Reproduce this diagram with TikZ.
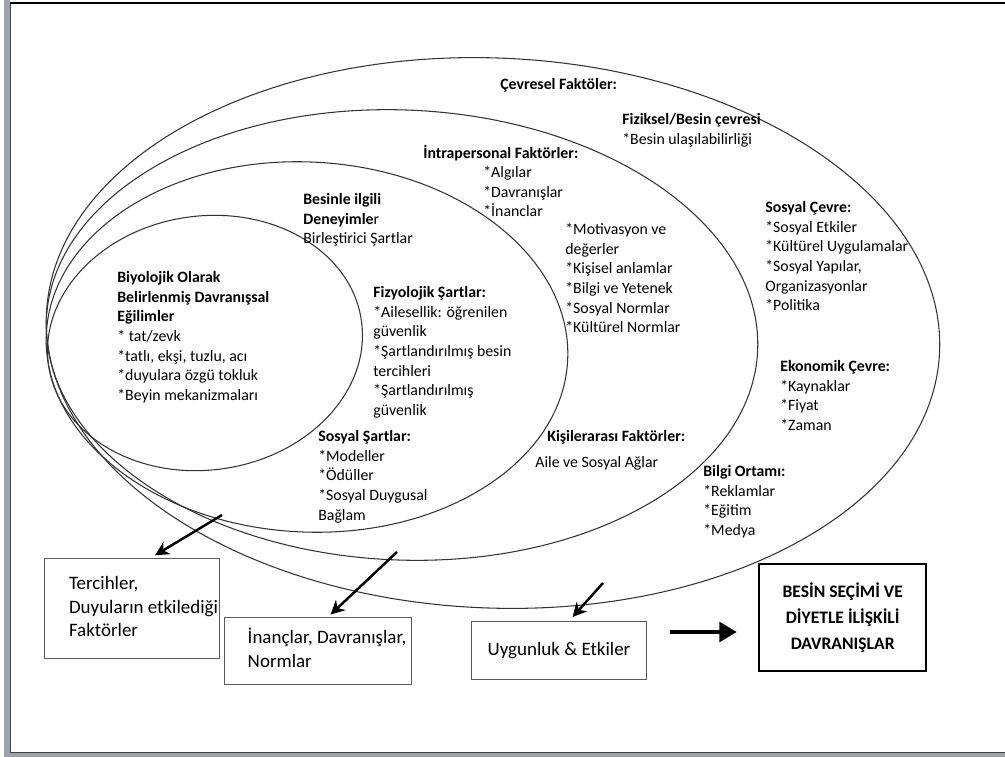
\documentclass[tikz,border=0pt]{standalone}
\usepackage{fontspec}
\setmainfont{Carlito}
\usepackage{xcolor}
\usepackage{tikz}
\usetikzlibrary{arrows.meta, positioning, calc}

\definecolor{framegrey}{RGB}{158,163,168}

\begin{document}
\begin{tikzpicture}[
    x=0.02cm, y=-0.02cm,
    ring/.style={draw=black!80, line width=0.6pt},
    txt/.style={anchor=north west, align=left, inner sep=0pt, font=\fontsize{9}{11.2}\selectfont},
    outbox/.style={draw=black!65, line width=0.6pt, inner sep=0pt, font=\fontsize{10.8}{13.5}\selectfont},
    mainbox/.style={draw=black, line width=1.4pt, inner sep=0pt, align=center, font=\fontsize{10}{14.7}\selectfont\bfseries},
    arrow/.style={-{Stealth[length=8pt,width=8pt]}, line width=1.4pt},
    bigarrow/.style={-{Triangle[length=10pt,width=11pt]}, line width=2.8pt}
]
\useasboundingbox (0,0) rectangle (1005,757);

% Window frame
\fill[framegrey] (4,0) rectangle (10,757);
\fill[framegrey] (4,753) rectangle (1005,757);
\draw[black!75, line width=0.6pt] (10.5,3) -- (10.5,752.5) -- (1005,752.5);
\fill[black] (10,2) rectangle (1005,4.5);

% Nested ellipses
\draw[ring, rotate around={-2.4:(493,333)}] (493,333) ellipse [x radius=447, y radius=275];
\draw[ring, rotate around={-2.5:(402,335)}] (402,335) ellipse [x radius=356, y radius=225];
\draw[ring, rotate around={-3:(307,347)}] (307,347) ellipse [x radius=261, y radius=185];
\draw[ring, rotate around={8:(205,343)}] (205,343) ellipse [x radius=158, y radius=127];

% Environmental factors
\node[txt] (cevre) at (500,78) {\textbf{Çevresel Faktöler:}};
\node[txt] (fizik) at (622,113) {\textbf{Fiziksel/Besin çevresi}\\*Besin ulaşılabilirliği};
\node[txt] (sosyalcevre) at (765,201) {\textbf{Sosyal Çevre:}\\*Sosyal Etkiler\\*Kültürel Uygulamalar\\*Sosyal Yapılar,\\Organizasyonlar\\*Politika};
\node[txt] (ekon) at (780,360) {\textbf{Ekonomik Çevre:}\\*Kaynaklar\\*Fiyat\\*Zaman};
\node[txt] (bilgi) at (703,465) {\textbf{Bilgi Ortamı:}\\*Reklamlar\\*Eğitim\\*Medya};

% Intrapersonal / interpersonal factors
\node[txt] (intra) at (423,145) {\textbf{İntrapersonal Faktörler:}};
\node[txt] (intrali) at (483,166) {*Algılar\\*Davranışlar\\*İnanclar};
\node[txt] (motiv) at (565,223) {*Motivasyon ve\\değerler\\*Kişisel anlamlar\\*Bilgi ve Yetenek\\*Sosyal Normlar\\*Kültürel Normlar};
\node[txt] (kisiler) at (547,430) {\textbf{Kişilerarası Faktörler:}};
\node[txt] (aile) at (535,456) {Aile ve Sosyal Ağlar};

% Food experiences
\node[txt] (besinle) at (303,193) {\textbf{Besinle ilgili}\\\textbf{Deneyimle}r\\Birleştirici Şartlar};
\node[txt] (fizyo) at (373,286) {\textbf{Fizyolojik Şartlar:}\\*Ailesellik: öğrenilen\\güvenlik\\*Şartlandırılmış besin\\tercihleri\\*Şartlandırılmış\\güvenlik};
\node[txt] (sosyalsart) at (318,430) {\textbf{Sosyal Şartlar:}\\*Modeller\\*Ödüller\\*Sosyal Duygusal\\Bağlam};

% Biological predispositions
\node[txt] (biyo) at (117,271) {\textbf{Biyolojik Olarak}\\\textbf{Belirlenmiş Davranışsal}\\\textbf{Eğilimler}\\* tat/zevk\\*tatlı, ekşi, tuzlu, acı\\*duyulara özgü tokluk\\*Beyin mekanizmaları};

% Outcome boxes
\node[outbox, minimum width=3.5cm, minimum height=2cm, anchor=north west] (tercih) at (44,558)
    {\begin{tabular}{@{\hspace{0.46cm}}l@{}}Tercihler,\\Duyuların etkilediği\\Faktörler\end{tabular}};
\node[outbox, minimum width=3.74cm, minimum height=1.34cm, anchor=north west] (inanc) at (224,617)
    {\begin{tabular}{@{\hspace{0.36cm}}l@{}}İnançlar, Davranışlar,\\Normlar\end{tabular}};
\node[outbox, minimum width=3.5cm, minimum height=1.16cm, anchor=north west] (uygun) at (471,621) {Uygunluk \& Etkiler};
\node[mainbox, minimum width=3.34cm, minimum height=2.14cm, anchor=north west] (secim) at (758,563) {BESİN SEÇİMİ VE\\DİYETLE İLİŞKİLİ\\DAVRANIŞLAR};

% Arrows
\coordinate (a1) at (222,515);
\coordinate (a2) at (397,552);
\coordinate (a3) at (603,583);
\coordinate (a4) at (670,632);
\draw[arrow, shorten >=3pt] (a1) -- ([xshift=0.37cm]tercih.north);
\draw[arrow, shorten >=2pt] (a2) -- ([xshift=0.2cm]inanc.north);
\draw[arrow, shorten >=3pt] (a3) -- ([xshift=0.2cm]uygun.north);
\draw[bigarrow, shorten >=12pt] (a4) -- (a4 -| secim.west);

\end{tikzpicture}
\end{document}
